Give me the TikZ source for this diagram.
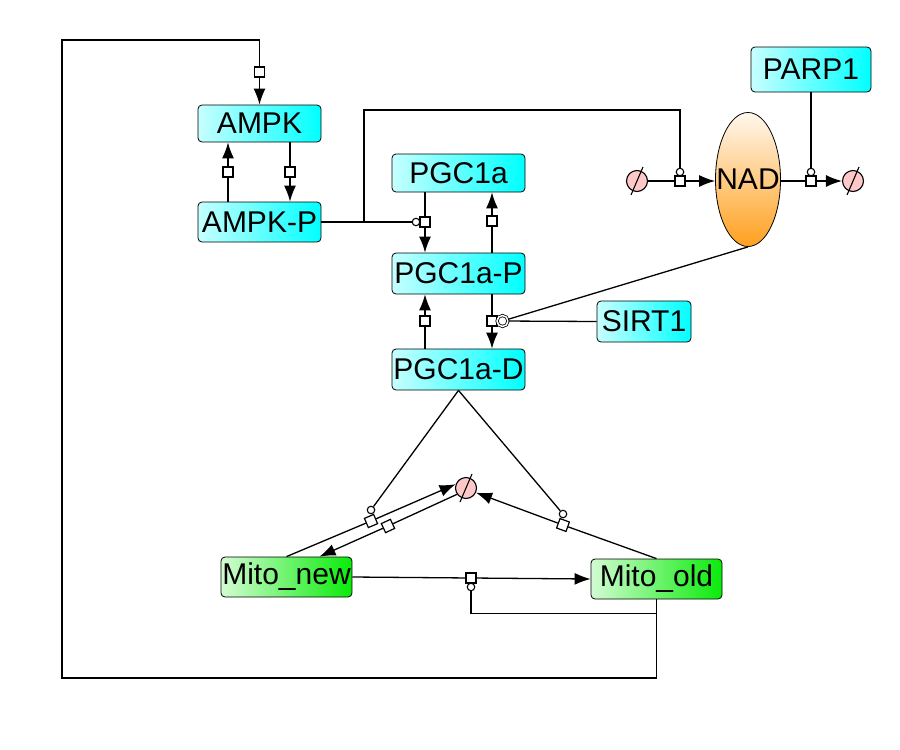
\documentclass[tikz,border=0pt]{standalone}
\usepackage{fontspec}
\setmainfont{Liberation Sans}
\usepackage{xcolor}
\usepackage{tikz}
\usetikzlibrary{shapes,arrows,arrows.meta,positioning}

\definecolor{protcyan}{RGB}{0,255,255}
\definecolor{mitogreen}{RGB}{10,235,10}
\definecolor{nadorange}{RGB}{255,160,30}
\definecolor{sinkpink}{RGB}{255,200,200}

\begin{document}
\begin{tikzpicture}[x=1pt, y=-1pt, line width=1.3pt,
    font=\fontsize{30}{31}\selectfont,
    prot/.style={rectangle, draw, rounded corners=4pt, inner sep=0pt, line width=0.8pt, left color=protcyan!22, right color=protcyan},
    mito/.style={rectangle, draw, rounded corners=4pt, inner sep=0pt, line width=0.8pt, left color=mitogreen!18, right color=mitogreen},
    rxn/.style={rectangle, draw, fill=white, minimum size=10pt, inner sep=0pt, line width=1.2pt},
    modc/.style={circle, draw, fill=white, minimum size=7.5pt, inner sep=0pt, line width=1.1pt},
    sink/.style={circle, draw, fill=sinkpink, minimum size=21pt, inner sep=0pt, line width=1.1pt},
    arrow/.style={-{Latex[length=16pt,width=12pt]}, line width=1.3pt}]

    \useasboundingbox (0,0) rectangle (900,750);

    % Species
    \node[prot, minimum width=123pt, minimum height=37pt] (ampk) at (259.5,123.5) {AMPK};
    \node[prot, minimum width=123pt, minimum height=40pt] (ampkp) at (259.5,222) {AMPK-P};
    \node[prot, minimum width=133pt, minimum height=38pt] (pgc) at (458.5,173) {PGC1a};
    \node[prot, minimum width=133pt, minimum height=41pt] (pgcp) at (458.5,273.5) {PGC1a-P};
    \node[prot, minimum width=133pt, minimum height=41pt] (pgcd) at (458.5,369.5) {PGC1a-D};
    \node[prot, minimum width=94pt, minimum height=41pt] (sirt) at (644,321.5) {SIRT1};
    \node[prot, minimum width=120pt, minimum height=45pt] (parp) at (811,69.5) {PARP1};
    \node[ellipse, draw, inner sep=0pt, line width=0.8pt, minimum width=65pt, minimum height=134pt,
          top color=nadorange!8, bottom color=nadorange, label={center:NAD}] (nad) at (748,179.5) {};
    \node[mito, minimum width=131pt, minimum height=40pt] (mitonew) at (286.5,577) {Mito\_new};
    \node[mito, minimum width=131pt, minimum height=40pt] (mitoold) at (656.5,579) {Mito\_old};

    % Sources and sinks
    \node[sink] (s1) at (637,181) {};
    \node[sink] (s2) at (853,181) {};
    \node[sink] (s3) at (466,488) {};
    \foreach \s in {s1,s2,s3}
        \draw[line width=1.1pt] ([shift={(-6,14)}]\s.center) -- ([shift={(6,-14)}]\s.center);

    % Reaction squares
    \node[rxn] (r0) at (259.5,72) {};
    \node[rxn] (r1) at (290,172) {};
    \node[rxn] (r2) at (228,172) {};
    \node[rxn] (r3) at (425,222) {};
    \node[rxn] (r4) at (492,221) {};
    \node[rxn] (r5) at (425,321) {};
    \node[rxn] (r6) at (492,321) {};
    \node[rxn] (r7) at (680,181) {};
    \node[rxn] (r8) at (811,181) {};
    \node[rxn, rotate=23] (r9) at (371,521) {};
    \node[rxn, rotate=25] (r10) at (388,526) {};
    \node[rxn, rotate=-20] (r11) at (563,525) {};
    \node[rxn] (r12) at (471,578) {};

    % Modifier circles
    \node[modc] (m3) at (416,222) {};
    \node[modc, minimum size=11pt, double, double distance=1.5pt, line width=0.8pt] (m6) at (502.5,321) {};
    \node[modc] (m7) at (680,172) {};
    \node[modc] (m8) at (811,172) {};
    \node[modc] (m9) at (371,510) {};
    \node[modc] (m11) at (563,514) {};
    \node[modc] (m12) at (471,587) {};

    % AMPK cycle
    \draw (mitoold.south) |- (62,678) -- (62,40) -| (r0);
    \draw[arrow] (r0) -- (r0 |- ampk.north);
    \draw (ampk.south -| r1) -- (r1);
    \draw[arrow] (r1) -- (r1 |- ampkp.north);
    \draw (ampkp.north -| r2) -- (r2);
    \draw[arrow] (r2) -- (r2 |- ampk.south);

    % PGC1a cycle
    \draw (pgc.south -| r3) -- (r3);
    \draw[arrow] (r3) -- (r3 |- pgcp.north);
    \draw (pgcp.north -| r4) -- (r4);
    \draw[arrow] (r4) -- (r4 |- pgc.south);
    \draw (pgcd.north -| r5) -- (r5);
    \draw[arrow] (r5) -- (r5 |- pgcp.south);
    \draw (pgcp.south -| r6) -- (r6);
    \draw[arrow] (r6) -- (r6 |- pgcd.north);

    % NAD production and use
    \draw (s1) -- (r7);
    \draw[arrow] (r7) -- (r7 -| nad.west);
    \draw (r8 -| nad.east) -- (r8);
    \draw[arrow] (r8) -- (s2);

    % Mitochondria
    \draw (mitonew.north) -- (r9);
    \draw[arrow] (r9) -- (s3.160);
    \draw (s3.215) -- (r10);
    \draw[arrow] (r10) -- ([xshift=33pt]mitonew.north);
    \draw (mitoold.north) -- (r11);
    \draw[arrow] (r11) -- (s3.335);
    \draw (mitonew.east) -- (r12);
    \draw[arrow] (r12) -- (mitoold.west);

    % Modifiers
    \coordinate (br) at (364,222);
    \draw (ampkp.east) -- (m3);
    \draw (br) -- (364,110) -| (m7);
    \draw (parp.south -| m8) -- (m8);
    \draw (sirt.west) -- (m6);
    \draw (nad.south) -- (m6);
    \draw (pgcd.south) -- (m9);
    \draw (pgcd.south) -- (m11);
    \draw ([yshift=-14pt]mitoold.south) -| (m12);
\end{tikzpicture}
\end{document}
